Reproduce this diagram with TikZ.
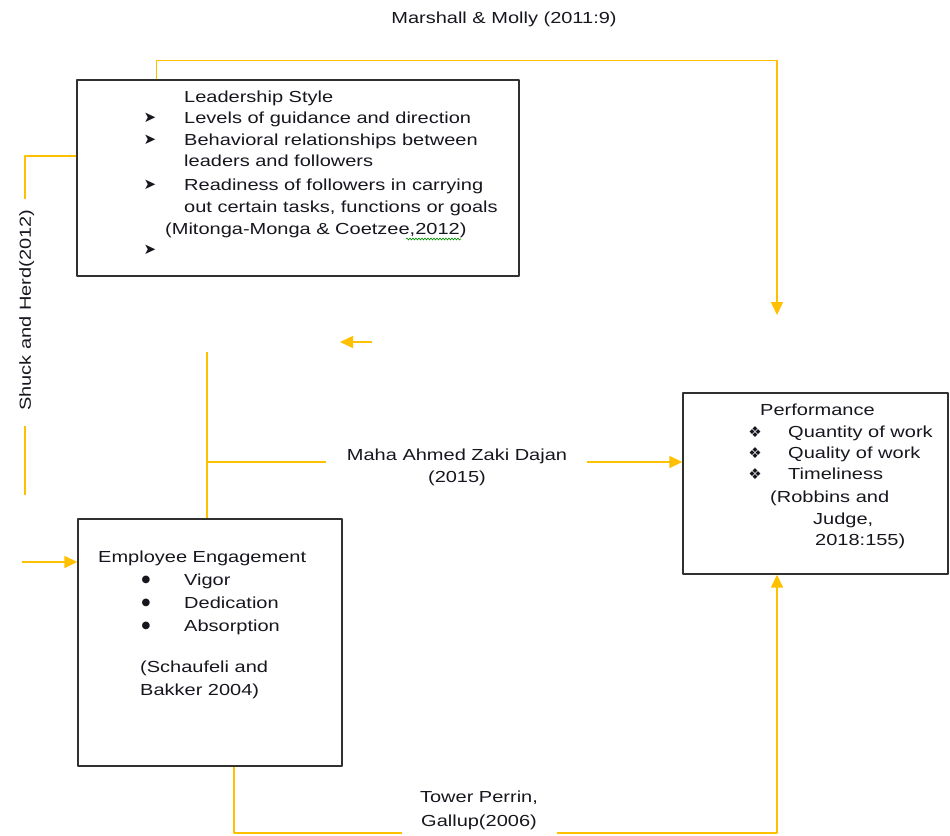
\documentclass[tikz,border=0pt]{standalone}
\usepackage{fontspec}
\setmainfont{Liberation Sans}[FakeStretch=1.25]
\newfontfamily\symfont{DejaVu Sans}
\usetikzlibrary{arrows.meta,decorations.pathmorphing}
\definecolor{linkgold}{HTML}{FFC000}
\definecolor{boxline}{HTML}{303030}
\definecolor{txtcol}{HTML}{16161E}
\begin{document}
\begin{tikzpicture}[x=1pt, y=-1pt, line join=round, >={Triangle[length=13pt,width=12pt]},
    font=\fontsize{16}{22}\selectfont,
    box/.style={draw=boxline, line width=1.4pt, inner sep=0pt},
    link/.style={draw=linkgold, line width=1.5pt},
    txt/.style={anchor=west, inner sep=0pt, text height=11.5pt, text depth=0pt, text=txtcol},
    lbl/.style={inner sep=0pt, text height=11.5pt, text depth=0pt, text=txtcol},
    bul/.style={inner sep=0pt, text=txtcol, font=\symfont\fontsize{15}{15}\selectfont}]
    \useasboundingbox (0,0) rectangle (950,835);
    % boxes
    \node[box, minimum width=442pt, minimum height=196pt] (lead) at (298,178) {};
    \node[box, minimum width=264pt, minimum height=247pt] (eng) at (210,642.5) {};
    \node[box, minimum width=265pt, minimum height=181pt] (perf) at (815.5,483.5) {};
    % leadership style
    \node[txt] (ldTitle) at (184,97) {Leadership Style};
    \node[txt] (ld1) at (184,118) {Levels of guidance and direction};
    \node[txt] (ld2) at (184,140) {Behavioral relationships between};
    \node[txt] (ld2b) at (184,161) {leaders and followers};
    \node[txt] (ld3) at (184,185) {Readiness of followers in carrying};
    \node[txt] (ld3b) at (184,207) {out certain tasks, functions or goals};
    \node[txt] (ldCite) at (165,229) {(Mitonga-Monga \& Coetzee,2012)};
    \foreach \y [count=\i] in {118,140,185,250} \node[bul] (ldB\i) at (150,\y) {➤};
    \draw[green!55!black, line width=0.6pt, decorate, decoration={snake, amplitude=1pt, segment length=3pt}] (406,239) -- (461,239);
    % performance
    \node[txt] (pfTitle) at (760,410) {Performance};
    \node[txt] (pf1) at (788,432) {Quantity of work};
    \node[txt] (pf2) at (788,453) {Quality of work};
    \node[txt] (pf3) at (788,474) {Timeliness};
    \node[txt] (pfC1) at (770,497) {(Robbins and};
    \node[txt] (pfC2) at (813,519) {Judge,};
    \node[txt] (pfC3) at (815,540) {2018:155)};
    \foreach \y [count=\i] in {432,453,474} \node[bul] (pfB\i) at (755,\y) {❖};
    % employee engagement
    \node[txt] (egTitle) at (98,557) {Employee Engagement};
    \node[txt] (eg1) at (184,580) {Vigor};
    \node[txt] (eg2) at (184,603) {Dedication};
    \node[txt] (eg3) at (184,626) {Absorption};
    \node[txt] (egC1) at (140,667) {(Schaufeli and};
    \node[txt] (egC2) at (140,690) {Bakker 2004)};
    \foreach \y [count=\i] in {580,603,626} \node[bul, font=\symfont\fontsize{10}{10}\selectfont] (egB\i) at (146,\y) {●};
    % links
    \node[lbl] (mm) at (504,18) {Marshall \& Molly (2011:9)};
    \node[lbl] (maha) at (457,455) {Maha Ahmed Zaki Dajan};
    \node[lbl] (mahaYr) at (457,477) {(2015)};
    \node[lbl] (tow1) at (479,797) {Tower Perrin,};
    \node[lbl] (tow2) at (479,821) {Gallup(2006)};
    \node[lbl, rotate=90] (shuck) at (25,310) {Shuck and Herd(2012)};
    \coordinate (mmEnd) at (777,315);
    \coordinate (shuckEnd) at (25,495);
    \coordinate (engIn) at (22,562);
    \coordinate (stubA) at (372,342);
    \coordinate (stubB) at (340,342);
    \coordinate (mahaTop) at (207,352);
    \coordinate (mahaL) at ([xshift=-21pt,yshift=-7pt]maha.west);
    \draw[link,->] ([xshift=80pt]lead.north west) -- ++(0,-19) -| (mmEnd);
    \draw[link] ([yshift=22pt]lead.west) -| ([yshift=10pt]shuck.east);
    \draw[link] ([yshift=-15pt]shuck.west) -- (shuckEnd);
    \draw[link,->] (engIn) -- (eng.west |- engIn);
    \draw[link,->] (stubA) -- (stubB);
    \draw[link] (mahaTop) -- (mahaTop |- eng.north);
    \draw[link] (mahaTop |- mahaL) -- (mahaL);
    \draw[link,->] ([xshift=20pt,yshift=-7pt]maha.east) -- (perf.west |- mahaL);
    \draw[link] ([xshift=24pt]eng.south) |- ([xshift=-19pt,yshift=-12pt]tow2.west);
    \draw[link,->] ([xshift=20pt,yshift=-12pt]tow2.east) -| ([xshift=-38.5pt]perf.south);
\end{tikzpicture}
\end{document}
